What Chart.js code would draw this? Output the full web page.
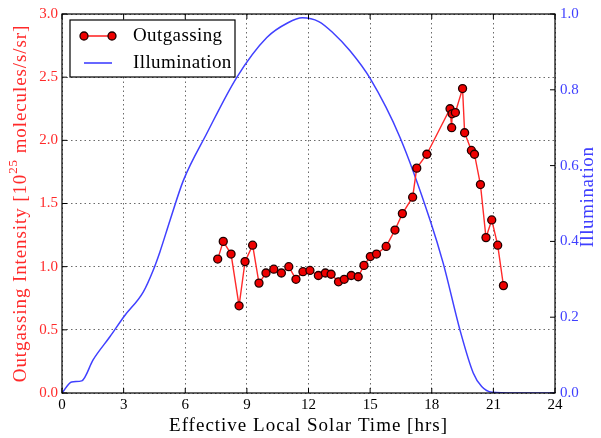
<!DOCTYPE html>
<html>
<head>
<meta charset="utf-8">
<script src="https://cdn.jsdelivr.net/npm/chart.js@4.4.0/dist/chart.umd.min.js"></script>
<style>
  html, body { margin: 0; padding: 0; background: #fff; }
  #wrap { width: 601px; height: 438px; }
</style>
</head>
<body>
<div id="wrap"><canvas id="grafico" width="601" height="438"></canvas></div>
<script>
// valores
const outTime = [7.58, 7.85, 8.23, 8.62, 8.91, 9.28, 9.59, 9.93, 10.31, 10.68, 11.04, 11.39, 11.73, 12.07,
  12.48, 12.82, 13.10, 13.46, 13.74, 14.08, 14.42, 14.70, 15.01, 15.31, 15.78, 16.21, 16.57, 17.07,
  17.27, 17.76, 18.89, 18.97, 18.99, 19.15, 19.50, 19.60, 19.93, 20.08, 20.37, 20.64, 20.92, 21.21, 21.49];
const outIntensity = [1.06, 1.20, 1.10, 0.69, 1.04, 1.17, 0.87, 0.95, 0.98, 0.95, 1.00, 0.90, 0.96, 0.97,
  0.93, 0.95, 0.94, 0.88, 0.90, 0.93, 0.92, 1.01, 1.08, 1.10, 1.16, 1.29, 1.42, 1.55,
  1.78, 1.89, 2.25, 2.10, 2.21, 2.22, 2.41, 2.06, 1.92, 1.89, 1.65, 1.23, 1.37, 1.17, 0.85];

const illumTime = [0, 0.47, 0.96, 1.52, 2.34, 3.02, 3.96, 4.44, 4.77, 5.26, 5.91, 7.04, 8.51, 9.97,
  11.0, 11.7, 12.5, 13.2, 14.02, 15.0, 16.45, 17.92, 18.56, 19.37, 20.02, 20.43, 20.93, 22, 24];
const illumValue = [0, 0.029, 0.032, 0.088, 0.149, 0.202, 0.267, 0.324, 0.373, 0.456, 0.561, 0.684, 0.833, 0.938,
  0.977, 0.990, 0.980, 0.950, 0.903, 0.830, 0.675, 0.456, 0.342, 0.167, 0.053, 0.017, 0.002, 0, 0];

const xTicks = [0, 3, 6, 9, 12, 15, 18, 21, 24];
const yTicksLeft = [0, 0.5, 1.0, 1.5, 2.0, 2.5, 3.0];
const yTicksRight = [0, 0.2, 0.4, 0.6, 0.8, 1.0];

const VERMELHO = '#ff2a2a';
const AZUL = '#4040ff';
const FONTE = "'Liberation Serif', serif";

// moldura, ticks internos, titulos dos eixos e legenda
const extras = {
  id: 'extras',
  afterDraw(chart) {
    const ctx = chart.ctx;
    const a = chart.chartArea;
    const sx = chart.scales.x, sy = chart.scales.y, sy1 = chart.scales.y1;
    ctx.save();
    ctx.strokeStyle = '#000';
    ctx.lineWidth = 1.2;
    ctx.strokeRect(a.left, a.top, a.right - a.left, a.bottom - a.top);

    ctx.lineWidth = 1;
    ctx.beginPath();
    xTicks.forEach(t => {
      const px = sx.getPixelForValue(t);
      ctx.moveTo(px, a.bottom); ctx.lineTo(px, a.bottom - 5);
      ctx.moveTo(px, a.top); ctx.lineTo(px, a.top + 5);
    });
    yTicksLeft.forEach(t => {
      const py = sy.getPixelForValue(t);
      ctx.moveTo(a.left, py); ctx.lineTo(a.left + 5, py);
    });
    yTicksRight.forEach(t => {
      const py = sy1.getPixelForValue(t);
      ctx.moveTo(a.right, py); ctx.lineTo(a.right - 5, py);
    });
    ctx.stroke();

    // titulo x
    ctx.fillStyle = '#000';
    ctx.font = '19px ' + FONTE;
    ctx.letterSpacing = '1px';
    ctx.textAlign = 'center';
    ctx.textBaseline = 'middle';
    ctx.fillText('Effective Local Solar Time [hrs]', (a.left + a.right) / 2, 426);

    // titulo y esquerdo com expoente
    const partes = [['Outgassing Intensity [10', 19, 0], ['25', 13, -7], [' molecules/s/sr]', 19, 0]];
    ctx.save();
    ctx.translate(21, (a.top + a.bottom) / 2);
    ctx.rotate(-Math.PI / 2);
    ctx.fillStyle = VERMELHO;
    ctx.textAlign = 'left';
    ctx.letterSpacing = '0.9px';
    let total = 0;
    partes.forEach(p => { ctx.font = p[1] + 'px ' + FONTE; total += ctx.measureText(p[0]).width; });
    let xx = -total / 2;
    partes.forEach(p => {
      ctx.font = p[1] + 'px ' + FONTE;
      ctx.fillText(p[0], xx, p[2]);
      xx += ctx.measureText(p[0]).width;
    });
    ctx.restore();

    // titulo y direito
    ctx.save();
    ctx.translate(588, 197);
    ctx.rotate(-Math.PI / 2);
    ctx.fillStyle = AZUL;
    ctx.font = '19px ' + FONTE;
    ctx.letterSpacing = '0.6px';
    ctx.textAlign = 'center';
    ctx.fillText('Illumination', 0, 0);
    ctx.restore();

    // legenda
    const ds = chart.data.datasets;
    ctx.fillStyle = '#fff';
    ctx.fillRect(70, 20, 165, 57);
    ctx.strokeStyle = '#000';
    ctx.lineWidth = 1.2;
    ctx.strokeRect(70, 20, 165, 57);
    const linhas = [36, 63];
    ds.forEach((d, i) => {
      const y = linhas[i];
      ctx.strokeStyle = d.borderColor;
      ctx.lineWidth = 1.6;
      ctx.beginPath(); ctx.moveTo(84, y); ctx.lineTo(112, y); ctx.stroke();
      if (d.pointRadius > 0) {
        [84, 112].forEach(px => {
          ctx.beginPath();
          ctx.arc(px, y, d.pointRadius, 0, Math.PI * 2);
          ctx.fillStyle = d.pointBackgroundColor;
          ctx.fill();
          ctx.lineWidth = d.pointBorderWidth;
          ctx.strokeStyle = d.pointBorderColor;
          ctx.stroke();
        });
      }
      ctx.fillStyle = '#000';
      ctx.font = '19px ' + FONTE;
      ctx.letterSpacing = '0.4px';
      ctx.textAlign = 'left';
      ctx.textBaseline = 'middle';
      ctx.fillText(d.label, 133, y);
    });
    ctx.restore();
  }
};

const ctx = document.getElementById('grafico').getContext('2d');
new Chart(ctx, {
  type: 'scatter',
  data: {
    datasets: [{
      label: 'Outgassing',
      data: outTime.map((t, i) => ({ x: t, y: outIntensity[i] })),
      showLine: true,
      borderColor: VERMELHO,
      borderWidth: 1.4,
      pointRadius: 4,
      pointBackgroundColor: '#ee0000',
      pointBorderColor: '#200000',
      pointBorderWidth: 1.3,
      yAxisID: 'y'
    }, {
      label: 'Illumination',
      data: illumTime.map((t, i) => ({ x: t, y: illumValue[i] })),
      showLine: true,
      borderColor: AZUL,
      borderWidth: 1.5,
      pointRadius: 0,
      cubicInterpolationMode: 'monotone',
      yAxisID: 'y1'
    }]
  },
  options: {
    responsive: false,
    animation: false,
    devicePixelRatio: 1,
    layout: { padding: { top: 13, left: 0, right: 0, bottom: 0 } },
    plugins: { legend: { display: false }, tooltip: { enabled: false } },
    scales: {
      x: {
        type: 'linear', min: 0, max: 24,
        afterFit: s => { s.height = 45; },
        afterBuildTicks: s => { s.ticks = xTicks.map(v => ({ value: v })); },
        ticks: { color: '#000', font: { family: FONTE, size: 15 }, padding: 3, maxRotation: 0 },
        grid: { color: '#444', lineWidth: 0.8, drawTicks: false },
        border: { display: false, dash: [1.5, 3] }
      },
      y: {
        position: 'left', min: 0, max: 3,
        afterFit: s => { s.width = 62; },
        afterBuildTicks: s => { s.ticks = yTicksLeft.map(v => ({ value: v })); },
        ticks: { color: VERMELHO, font: { family: FONTE, size: 15 }, padding: 4, callback: v => v.toFixed(1) },
        grid: { color: '#444', lineWidth: 0.8, drawTicks: false },
        border: { display: false, dash: [1.5, 3] }
      },
      y1: {
        position: 'right', min: 0, max: 1,
        afterFit: s => { s.width = 46; },
        afterBuildTicks: s => { s.ticks = yTicksRight.map(v => ({ value: v })); },
        ticks: { color: AZUL, font: { family: FONTE, size: 15 }, padding: 5, callback: v => v.toFixed(1) },
        grid: { display: false, drawTicks: false },
        border: { display: false }
      }
    }
  },
  plugins: [extras]
});
</script>
</body>
</html>
